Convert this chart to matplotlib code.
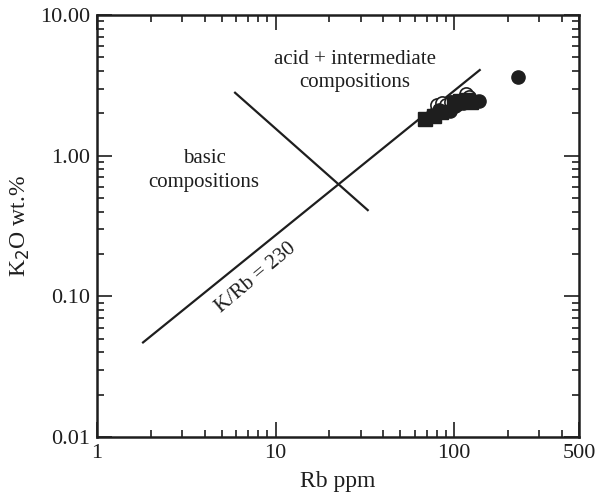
import numpy as np
import matplotlib.pyplot as plt
from matplotlib.ticker import FixedLocator, NullFormatter

plt.rcParams['font.family'] = ['Liberation Serif', 'DejaVu Serif']

# Дані (Rb ppm, K2O wt.%)
sq_rb = [69, 77, 84, 100, 108, 118, 125]
sq_k2o = [1.82, 1.90, 2.05, 2.35, 2.45, 2.50, 2.42]

fc_rb = [82, 95, 101, 112, 138, 228]
fc_k2o = [2.10, 2.08, 2.25, 2.35, 2.45, 3.60]

oc_rb = [80, 85, 90, 96, 116, 121]
oc_k2o = [2.30, 2.36, 2.30, 2.40, 2.75, 2.60]

# Лінія K/Rb = 230 та розділова лінія
krb_rb = [1.81, 139]
krb_k2o = [0.047, 4.06]
div_rb = [5.93, 32.8]
div_k2o = [2.8, 0.41]

x_major = [1, 10, 100, 500]
x_labels = ["1", "10", "100", "500"]
y_major = [0.01, 0.1, 1, 10]
y_labels = ["0.01", "0.10", "1.00", "10.00"]

fig = plt.figure(figsize=(5.96, 4.96), dpi=100)
ax = fig.add_axes([0.1628, 0.119, 0.8087, 0.8508])

ax.plot(krb_rb, krb_k2o, color="#1e1e1e", lw=1.6)
ax.plot(div_rb, div_k2o, color="#1e1e1e", lw=1.6)

ax.plot(oc_rb, oc_k2o, "o", ms=9.5, mfc="white", mec="#1e1e1e", mew=1.2, ls="none")
ax.plot(sq_rb, sq_k2o, "s", ms=9.5, color="#1e1e1e", ls="none")
ax.plot(fc_rb, fc_k2o, "o", ms=9.5, color="#1e1e1e", ls="none")

ax.set_xscale("log")
ax.set_yscale("log")
ax.set_xlim(1, 500)
ax.set_ylim(0.01, 10)

ax.xaxis.set_major_locator(FixedLocator(x_major))
ax.set_xticklabels(x_labels)
ax.yaxis.set_major_locator(FixedLocator(y_major))
ax.set_yticklabels(y_labels)
x_minor = [m * d for d in [1, 10] for m in range(2, 10)] + [200, 300, 400]
y_minor = [m * d for d in [0.01, 0.1, 1] for m in range(2, 10)]
ax.xaxis.set_minor_locator(FixedLocator(x_minor))
ax.yaxis.set_minor_locator(FixedLocator(y_minor))
ax.xaxis.set_minor_formatter(NullFormatter())
ax.yaxis.set_minor_formatter(NullFormatter())

ax.tick_params(which="both", direction="in", top=True, right=True,
               labelsize=16, colors="#1e1e1e", pad=5)
ax.tick_params(which="major", length=11, width=1.2)
ax.tick_params(which="minor", length=5, width=1.2)
for s in ax.spines.values():
    s.set_linewidth(1.8)
    s.set_color("#1e1e1e")

ax.set_xlabel("Rb ppm", fontsize=17, color="#1e1e1e", labelpad=6)
ax.set_ylabel("K$_2$O wt.%", fontsize=17, color="#1e1e1e", labelpad=6)

ax.text(27.8, 4.79, "acid + intermediate", fontsize=15, ha="center", va="center", color="#1e1e1e")
ax.text(27.8, 3.29, "compositions", fontsize=15, ha="center", va="center", color="#1e1e1e")
ax.text(3.97, 0.947, "basic", fontsize=15, ha="center", va="center", color="#1e1e1e")
ax.text(3.97, 0.64, "compositions", fontsize=15, ha="center", va="center", color="#1e1e1e")
ax.text(7.8, 0.135, "K/Rb = 230", fontsize=15, ha="center", va="center",
        rotation=40, color="#1e1e1e")

fig.savefig("out.png", dpi=100)
